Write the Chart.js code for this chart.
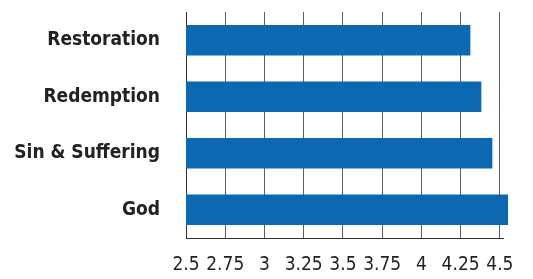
<!DOCTYPE html>
<html>
<head>
<meta charset="utf-8">
<script src="https://cdn.jsdelivr.net/npm/chart.js@4"></script>
<style>
html, body { margin: 0; padding: 0; background: #fff; }
#wrap { width: 533px; height: 279px; }
</style>
</head>
<body>
<div id="wrap"><canvas id="chart"></canvas></div>
<script>
const categories = ["Restoration", "Redemption", "Sin & Suffering", "God"];
const scores = [4.31, 4.38, 4.45, 4.55];
const tickValues = [2.5, 2.75, 3, 3.25, 3.5, 3.75, 4, 4.25, 4.5];

const ctx = document.getElementById("chart").getContext("2d");

let chart = new Chart(ctx, {
	type: "bar",
	data: {
		labels: categories,
		datasets: [
			{
				data: scores,
				backgroundColor: "#0c69b1",
				borderWidth: 0,
				barThickness: 30,
				// keep the left clip, let the longest bar run past the axis end
				clip: { left: 0, top: 0, right: false, bottom: 0 },
			},
		],
	},
	options: {
		indexAxis: "y",
		responsive: true,
		maintainAspectRatio: false,
		animation: false,
		layout: {
			padding: { top: 12, right: 30, bottom: 0, left: 0 }
		},
		plugins: {
			legend: { display: false },
			tooltip: { enabled: false },
		},
		scales: {
			x: {
				min: 2.5,
				max: 4.52,
				afterBuildTicks: function(scale) {
					scale.ticks = tickValues.map(v => ({ value: v }));
				},
				afterFit: function(scale) {
					scale.height = 41;
					scale.paddingLeft = 0;
					scale.paddingRight = 0;
				},
				grid: {
					color: "#5e5e5e",
					lineWidth: 1,
					drawTicks: false,
				},
				border: { color: "#333", width: 1 },
				ticks: {
					padding: 16,
					maxRotation: 0,
					autoSkip: false,
					color: "#222",
					font: { family: "'DejaVu Sans Condensed', sans-serif", size: 19 },
					callback: function(value) {
						return String(value);
					}
				}
			},
			y: {
				afterFit: function(scale) {
					scale.width = 186;
					scale.paddingTop = 0;
					scale.paddingBottom = 0;
				},
				grid: { display: false, drawTicks: false },
				border: { color: "#333", width: 1 },
				ticks: {
					padding: 26,
					color: "#222",
					font: { family: "'DejaVu Sans Condensed', sans-serif", size: 19, weight: "bold" },
				}
			}
		},
	},
});
</script>
</body>
</html>
